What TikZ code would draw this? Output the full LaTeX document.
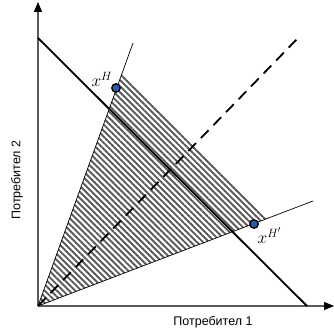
\documentclass[tikz,border=0pt]{standalone}
\usepackage{fontspec}
\setmainfont{Liberation Sans}
\usetikzlibrary{arrows.meta,patterns.meta}
\definecolor{axisGray}{HTML}{5A5A5A}
\definecolor{dotBlue}{HTML}{2B5BA8}

\begin{document}
\begin{tikzpicture}[
  x=1pt, y=1pt,
  >={Triangle[length=10pt,width=8pt,color=black]},
  every node/.style={font=\fontsize{12.5}{14}\selectfont},
  axisline/.style={draw=axisGray, line width=1.1pt},
  budgetline/.style={draw=black, line width=1.8pt},
  rayline/.style={draw=black, line width=0.7pt},
  diagline/.style={draw=black, line width=1.8pt, dash pattern=on 11pt off 7pt},
  hatcharea/.style={pattern={Lines[angle=-45,distance=4.3pt,line width=1.9pt]},
    pattern color=black!65},
  alloc/.style={circle, draw=black, line width=1.3pt, fill=dotBlue,
    minimum size=8.5pt, inner sep=0pt},
  alloclabel/.style={font=\fontsize{18}{20}\selectfont, inner sep=1pt},
]
\useasboundingbox (0,0) rectangle (334,331);

% ======= Points =======
\coordinate (O) at (38,25);
\coordinate (ytop) at (38,329);
\coordinate (xend) at (334,25);
\coordinate (budgetA) at (38,293);
\coordinate (budgetB) at (307,25);
\coordinate (rayU) at (133,288);
\coordinate (rayL) at (313,130);
\coordinate (diagend) at (298,293);
\coordinate (hatchA) at (122,258);
\coordinate (hatchB) at (268,113);

% Shaded region
\fill[hatcharea] (O) -- (hatchA) -- (hatchB) -- cycle;

% ======= Axes =======
\draw[axisline, ->] (O) -- (ytop);
\draw[axisline, ->] (O) -- (xend);
\node[anchor=center] (xlab) at (213,9) {Потребител 1};
\node[rotate=90, anchor=center] (ylab) at (17,151) {Потребител 2};

% ======= Lines =======
\draw[rayline] (O) -- (rayU);
\draw[rayline] (O) -- (rayL);
\draw[diagline] (O) -- (diagend);
\draw[budgetline] (budgetA) -- (budgetB);

% Allocations
\node[alloc] (xH) at (116,243) {};
\node[alloc] (xHp) at (254,107) {};
\node[alloclabel, anchor=south east] (xHlab) at ([xshift=1pt,yshift=-3pt]xH.north west) {$x^{H}$};
\node[alloclabel, anchor=north west] (xHplab) at ([xshift=-1pt,yshift=1pt]xHp.south east) {$x^{H'}$};

\end{tikzpicture}
\end{document}
